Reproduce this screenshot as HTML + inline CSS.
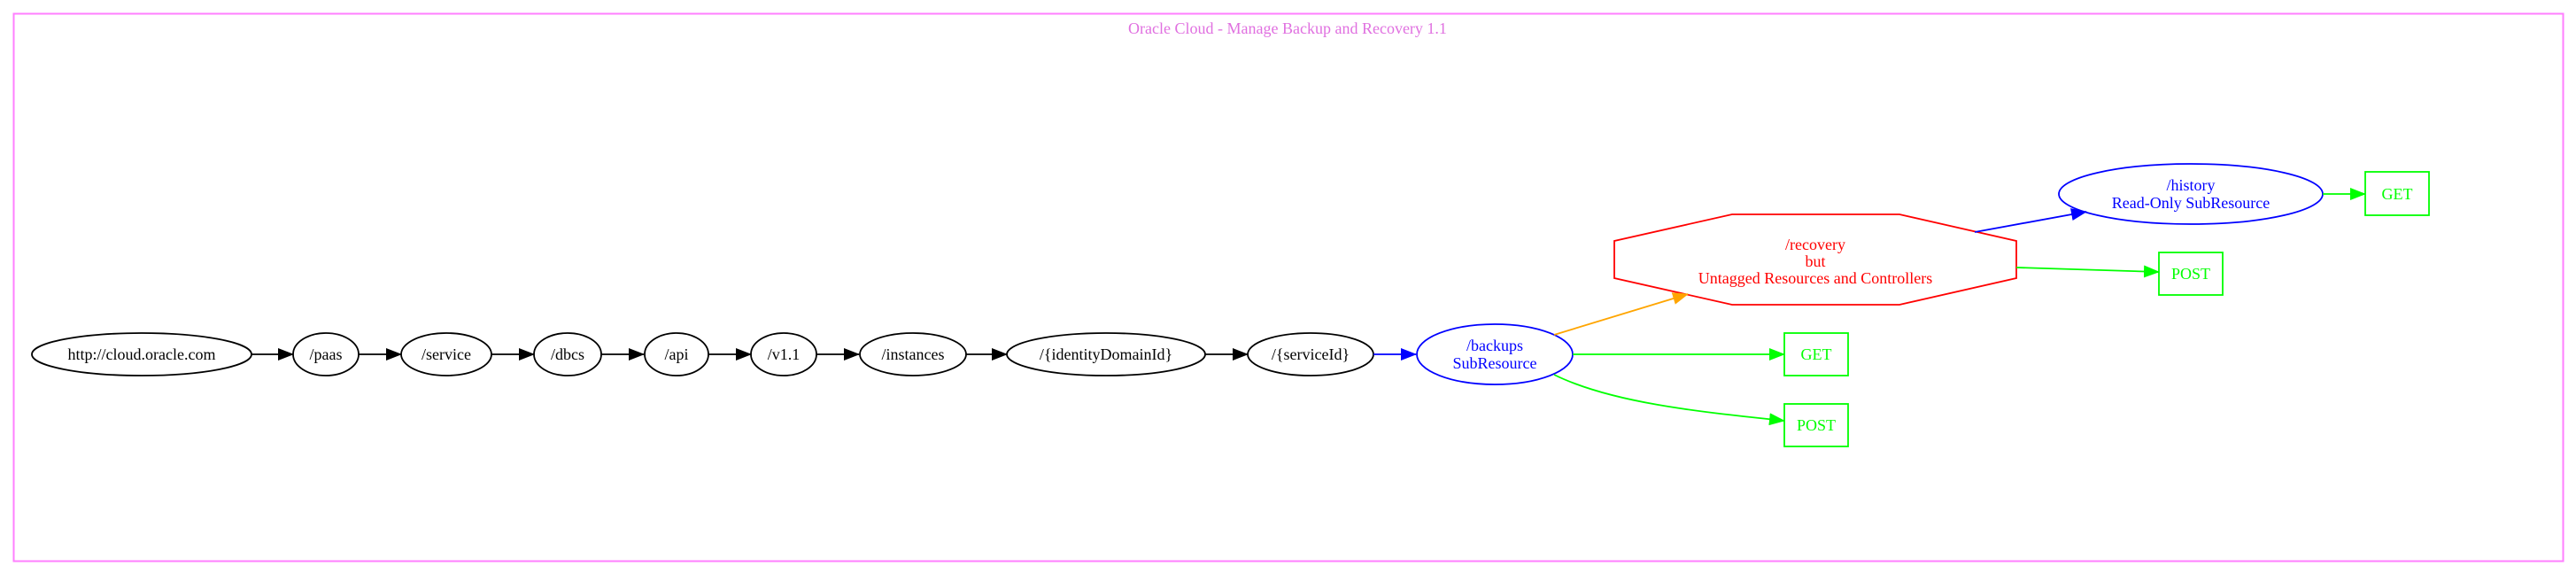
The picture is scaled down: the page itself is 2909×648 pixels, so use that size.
<!DOCTYPE html>
<html><head><meta charset="utf-8"><style>html,body{margin:0;padding:0;background:#fff}svg{display:block}</style></head>
<body>
<svg width="2909" height="648" viewBox="0 0 2909 648" xmlns="http://www.w3.org/2000/svg" font-family="Liberation Serif, serif" font-size="18">
<defs>
<marker id="ab" markerWidth="10" markerHeight="8" refX="9" refY="4" orient="auto" markerUnits="userSpaceOnUse"><path d="M0,0 L10,4 L0,8z" fill="#000"/></marker>
<marker id="abl" markerWidth="18" markerHeight="14" refX="17" refY="7" orient="auto" markerUnits="userSpaceOnUse"><path d="M0,0 L18,7 L0,14z" fill="#00f"/></marker>
<marker id="ag" markerWidth="18" markerHeight="14" refX="17" refY="7" orient="auto" markerUnits="userSpaceOnUse"><path d="M0,0 L18,7 L0,14z" fill="#0f0"/></marker>
<marker id="ao" markerWidth="18" markerHeight="14" refX="17" refY="7" orient="auto" markerUnits="userSpaceOnUse"><path d="M0,0 L18,7 L0,14z" fill="orange"/></marker>
<marker id="ak" markerWidth="18" markerHeight="14" refX="17" refY="7" orient="auto" markerUnits="userSpaceOnUse"><path d="M0,0 L18,7 L0,14z" fill="#000"/></marker>
</defs>
<rect x="15.5" y="15.5" width="2879" height="618" fill="none" stroke="#f0f" stroke-opacity="0.5" stroke-width="2"/>
<text x="1454" y="38" text-anchor="middle" fill="#e070e0">Oracle Cloud - Manage Backup and Recovery 1.1</text>
<g fill="none" stroke="#000" stroke-width="1.8">
<ellipse cx="160" cy="400" rx="124" ry="24"/>
<ellipse cx="368" cy="400" rx="37" ry="24"/>
<ellipse cx="504" cy="400" rx="51" ry="24"/>
<ellipse cx="641" cy="400" rx="38" ry="24"/>
<ellipse cx="764" cy="400" rx="36" ry="24"/>
<ellipse cx="885" cy="400" rx="37" ry="24"/>
<ellipse cx="1031" cy="400" rx="60" ry="24"/>
<ellipse cx="1249" cy="400" rx="112" ry="24"/>
<ellipse cx="1480" cy="400" rx="71" ry="24"/>
<line x1="284" y1="400" x2="331" y2="400" marker-end="url(#ak)"/>
<line x1="405" y1="400" x2="453" y2="400" marker-end="url(#ak)"/>
<line x1="555" y1="400" x2="603" y2="400" marker-end="url(#ak)"/>
<line x1="679" y1="400" x2="727" y2="400" marker-end="url(#ak)"/>
<line x1="800" y1="400" x2="848" y2="400" marker-end="url(#ak)"/>
<line x1="922" y1="400" x2="970" y2="400" marker-end="url(#ak)"/>
<line x1="1091" y1="400" x2="1137" y2="400" marker-end="url(#ak)"/>
<line x1="1361" y1="400" x2="1409" y2="400" marker-end="url(#ak)"/>
</g>
<g fill="#000" text-anchor="middle">
<text x="160" y="406">http://cloud.oracle.com</text>
<text x="368" y="406">/paas</text>
<text x="504" y="406">/service</text>
<text x="641" y="406">/dbcs</text>
<text x="764" y="406">/api</text>
<text x="885" y="406">/v1.1</text>
<text x="1031" y="406">/instances</text>
<text x="1249" y="406">/{identityDomainId}</text>
<text x="1480" y="406">/{serviceId}</text>
</g>
<line x1="1551" y1="400" x2="1599" y2="400" stroke="#00f" stroke-width="1.8" marker-end="url(#abl)"/>
<ellipse cx="1688" cy="400" rx="88" ry="34" fill="none" stroke="#00f" stroke-width="1.8"/>
<text x="1688" y="396" text-anchor="middle" fill="#00f">/backups</text>
<text x="1688" y="416" text-anchor="middle" fill="#00f">SubResource</text>
<polygon points="1956,242 2145,242 2277,272 2277,314 2145,344 1956,344 1823,314 1823,272" fill="none" stroke="#f00" stroke-width="1.8"/>
<text x="2050" y="282" text-anchor="middle" fill="#f00">/recovery</text>
<text x="2050" y="301" text-anchor="middle" fill="#f00">but</text>
<text x="2050" y="320" text-anchor="middle" fill="#f00">Untagged Resources and Controllers</text>
<ellipse cx="2474" cy="219" rx="149" ry="34" fill="none" stroke="#00f" stroke-width="1.8"/>
<text x="2474" y="215" text-anchor="middle" fill="#00f">/history</text>
<text x="2474" y="235" text-anchor="middle" fill="#00f">Read-Only SubResource</text>
<g fill="none" stroke="#0f0" stroke-width="1.8">
<rect x="2671" y="194" width="72" height="49"/>
<rect x="2438" y="285" width="72" height="48"/>
<rect x="2015" y="376" width="72" height="48"/>
<rect x="2015" y="456" width="72" height="48"/>
<line x1="2623" y1="219" x2="2671" y2="219" marker-end="url(#ag)"/>
<line x1="2277" y1="302" x2="2438" y2="307" marker-end="url(#ag)"/>
<line x1="1776" y1="400" x2="2015" y2="400" marker-end="url(#ag)"/>
<path d="M1755,423 C1820,455 1920,465 2015,475" marker-end="url(#ag)"/>
</g>
<line x1="1755" y1="378" x2="1906" y2="332" stroke="orange" stroke-width="1.8" marker-end="url(#ao)"/>
<line x1="2230" y1="262" x2="2356" y2="239" stroke="#00f" stroke-width="1.8" marker-end="url(#abl)"/>
<g fill="#0f0" text-anchor="middle">
<text x="2707" y="225">GET</text>
<text x="2474" y="315">POST</text>
<text x="2051" y="406">GET</text>
<text x="2051" y="486">POST</text>
</g>
</svg>
</body></html>
